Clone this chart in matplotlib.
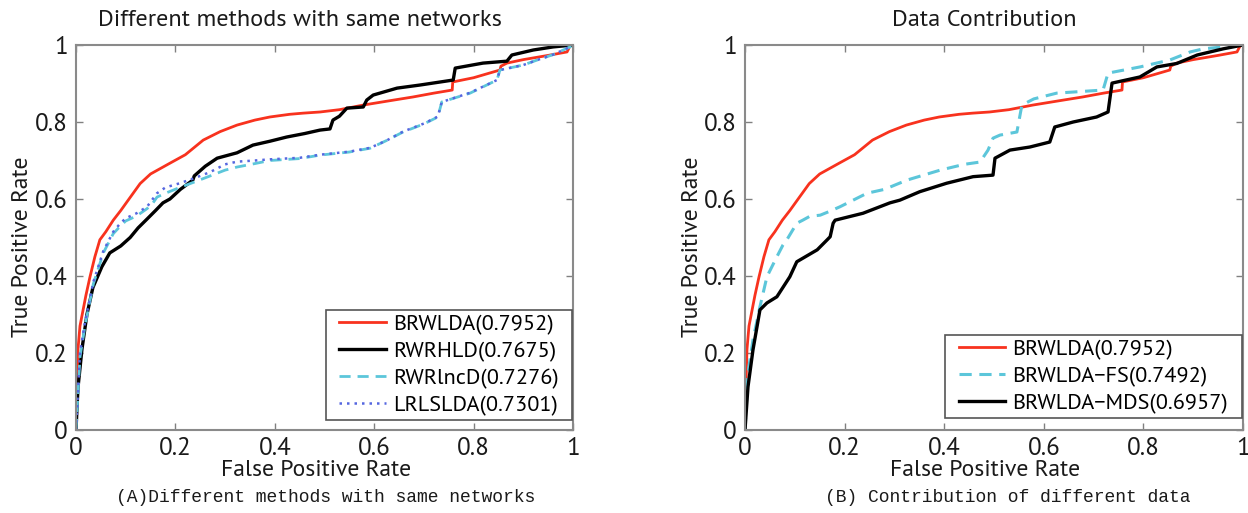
import matplotlib
matplotlib.use('Agg')
import matplotlib.pyplot as plt
from matplotlib import font_manager as fm
from matplotlib.lines import Line2D
from matplotlib.legend_handler import HandlerLine2D

# ---------------- data ----------------
tick_values = [0, 0.2, 0.4, 0.6, 0.8, 1]
tick_labels = ['0', '0.2', '0.4', '0.6', '0.8', '1']

# BRWLDA (shared by both panels)
brwlda_fpr = [0, 0.002, 0.004, 0.008, 0.014, 0.02, 0.028, 0.038, 0.048, 0.06, 0.075, 0.09, 0.105,
              0.129, 0.15, 0.189, 0.22, 0.256, 0.29, 0.324, 0.36, 0.39, 0.43, 0.457, 0.491, 0.53,
              0.578, 0.63, 0.678, 0.72, 0.757, 0.758, 0.80, 0.853, 0.855, 0.867, 0.90, 0.95, 0.988,
              0.995, 1.0]
brwlda_tpr = [0, 0.12, 0.21, 0.27, 0.31, 0.35, 0.397, 0.45, 0.494, 0.515, 0.545, 0.57, 0.597,
              0.64, 0.665, 0.693, 0.715, 0.753, 0.775, 0.792, 0.805, 0.813, 0.82, 0.823, 0.826, 0.832,
              0.844, 0.855, 0.865, 0.875, 0.883, 0.904, 0.915, 0.935, 0.945, 0.953, 0.962, 0.973, 0.982,
              1.0, 1.0]

# RWRHLD
rwrhld_fpr = [0, 0.004, 0.012, 0.022, 0.034, 0.052, 0.068, 0.09, 0.109, 0.125, 0.143, 0.16, 0.175,
              0.189, 0.21, 0.235, 0.238, 0.26, 0.284, 0.324, 0.356, 0.39, 0.424, 0.46, 0.491, 0.511,
              0.517, 0.53, 0.545, 0.578, 0.585, 0.598, 0.646, 0.692, 0.759, 0.763, 0.819, 0.867, 0.877,
              0.92, 0.96, 1.0]
rwrhld_tpr = [0, 0.11, 0.21, 0.30, 0.37, 0.424, 0.46, 0.478, 0.50, 0.525, 0.548, 0.57, 0.59,
              0.60, 0.625, 0.649, 0.66, 0.685, 0.706, 0.72, 0.74, 0.75, 0.761, 0.77, 0.779, 0.782,
              0.805, 0.815, 0.836, 0.839, 0.857, 0.87, 0.888, 0.896, 0.909, 0.94, 0.953, 0.958, 0.974,
              0.987, 0.995, 1.0]

# RWRlncD
rwrlncd_fpr = [0, 0.008, 0.018, 0.035, 0.055, 0.075, 0.088, 0.1, 0.122, 0.143, 0.155, 0.163, 0.18,
               0.209, 0.24, 0.27, 0.3, 0.324, 0.36, 0.39, 0.45, 0.491, 0.55, 0.592, 0.625, 0.658, 0.7,
               0.728, 0.736, 0.793, 0.847, 0.853, 0.9, 0.928, 0.96, 0.994, 1.0]
rwrlncd_tpr = [0, 0.19, 0.27, 0.38, 0.46, 0.51, 0.528, 0.543, 0.556, 0.575, 0.59, 0.605, 0.615,
               0.63, 0.645, 0.66, 0.675, 0.683, 0.692, 0.70, 0.705, 0.714, 0.722, 0.732, 0.752, 0.774,
               0.795, 0.813, 0.852, 0.875, 0.909, 0.935, 0.948, 0.961, 0.975, 0.995, 1.0]

# LRLSLDA
lrlslda_fpr = [0, 0.008, 0.018, 0.035, 0.055, 0.075, 0.088, 0.1, 0.122, 0.143, 0.163, 0.18, 0.209,
               0.24, 0.27, 0.3, 0.324, 0.36, 0.39, 0.45, 0.491, 0.55, 0.592, 0.625, 0.658, 0.7, 0.728,
               0.736, 0.793, 0.847, 0.853, 0.9, 0.928, 0.96, 0.994, 1.0]
lrlslda_tpr = [0, 0.20, 0.28, 0.385, 0.465, 0.515, 0.535, 0.55, 0.563, 0.58, 0.615, 0.63, 0.641,
               0.655, 0.67, 0.69, 0.697, 0.70, 0.703, 0.707, 0.715, 0.723, 0.733, 0.752, 0.775, 0.796,
               0.814, 0.852, 0.876, 0.909, 0.935, 0.948, 0.961, 0.975, 0.995, 1.0]

# BRWLDA-FS
fs_fpr = [0, 0.006, 0.016, 0.03, 0.044, 0.064, 0.076, 0.084, 0.104, 0.116, 0.13, 0.151, 0.17, 0.191,
          0.245, 0.28, 0.325, 0.392, 0.44, 0.472, 0.488, 0.498, 0.512, 0.546, 0.556, 0.58, 0.626,
          0.719, 0.729, 0.793, 0.853, 0.894, 0.92, 0.96, 1.0]
fs_tpr = [0, 0.148, 0.234, 0.32, 0.398, 0.45, 0.48, 0.494, 0.537, 0.545, 0.555, 0.558, 0.568, 0.58,
          0.615, 0.625, 0.649, 0.675, 0.69, 0.696, 0.727, 0.758, 0.766, 0.774, 0.844, 0.86, 0.875,
          0.883, 0.927, 0.943, 0.961, 0.982, 0.99, 0.995, 1.0]

# BRWLDA-MDS
mds_fpr = [0, 0.006, 0.016, 0.03, 0.044, 0.064, 0.09, 0.104, 0.145, 0.165, 0.171, 0.177, 0.181, 0.237,
           0.291, 0.311, 0.351, 0.405, 0.458, 0.498, 0.502, 0.532, 0.572, 0.612, 0.622, 0.659, 0.706,
           0.729, 0.737, 0.793, 0.827, 0.867, 0.908, 0.96, 1.0]
mds_tpr = [0, 0.112, 0.208, 0.312, 0.33, 0.346, 0.398, 0.437, 0.468, 0.494, 0.502, 0.537, 0.545, 0.563,
           0.59, 0.597, 0.619, 0.641, 0.658, 0.662, 0.706, 0.727, 0.735, 0.748, 0.787, 0.80, 0.813,
           0.826, 0.901, 0.917, 0.943, 0.952, 0.974, 0.99, 1.0]

labels_a = ['BRWLDA(0.7952)', 'RWRHLD(0.7675)', 'RWRlncD(0.7276)', 'LRLSLDA(0.7301)']
labels_b = ['BRWLDA(0.7952)', 'BRWLDA\u2212FS(0.7492)', 'BRWLDA\u2212MDS(0.6957)']

# ---------------- fonts ----------------
def static_regular(name):
    for f in fm.fontManager.ttflist:
        p = f.fname.lower()
        if (f.name == name and f.style == 'normal' and f.weight in (400, 'normal', 'regular')
                and 'wght' not in p and 'variable' not in p and 'vf' not in p.split('/')[-1]):
            return f.fname
    return None


SANS_FILE = None
for cand in ['Source Sans Pro', 'Source Sans 3', 'PT Sans', 'Lato', 'Liberation Sans']:
    SANS_FILE = static_regular(cand)
    if SANS_FILE:
        break
MONO = 'Liberation Mono' if any(f.name == 'Liberation Mono' for f in fm.fontManager.ttflist) else 'DejaVu Sans Mono'

if SANS_FILE:
    SANS = fm.FontProperties(fname=SANS_FILE).get_name()
else:
    SANS = 'DejaVu Sans'
plt.rcParams['font.family'] = [SANS, 'DejaVu Sans']


def fp(size):
    if SANS_FILE:
        return fm.FontProperties(fname=SANS_FILE, size=size)
    return fm.FontProperties(family='DejaVu Sans', size=size)


RED = '#f8321e'
CYAN = '#5cc6da'
BLUE = '#5566e0'
TC = '#1a1a1a'
LEG_FS = 16

fig = plt.figure(figsize=(12.48, 5.13), dpi=100)
axA = fig.add_axes([76 / 1248, 83 / 513, 497 / 1248, 385 / 513])
axB = fig.add_axes([745 / 1248, 83 / 513, 498 / 1248, 385 / 513])


def style(ax):
    ax.set_xlim(0, 1)
    ax.set_ylim(0, 1)
    ax.set_xticks(tick_values)
    ax.set_xticklabels(tick_labels, fontproperties=fp(18))
    ax.set_yticks(tick_values)
    ax.set_yticklabels(tick_labels, fontproperties=fp(18))
    ax.tick_params(direction='in', length=5, width=1, color='#808080', top=True, right=True,
                   labelcolor=TC)
    ax.tick_params(axis='x', pad=5)
    ax.tick_params(axis='y', pad=6)
    for s in ax.spines.values():
        s.set_color('#8a8a8a')
        s.set_linewidth(1.5)


axA.plot(brwlda_fpr, brwlda_tpr, color=RED, lw=2, label=labels_a[0])
axA.plot(rwrhld_fpr, rwrhld_tpr, color='black', lw=2.4, label=labels_a[1])
axA.plot(rwrlncd_fpr, rwrlncd_tpr, color=CYAN, lw=2, ls=(0, (4, 2.5)), label=labels_a[2])
axA.plot(lrlslda_fpr, lrlslda_tpr, color=BLUE, lw=1.8, ls=(0, (1, 2)), label=labels_a[3])
style(axA)

axB.plot(brwlda_fpr, brwlda_tpr, color=RED, lw=2, label=labels_b[0])
axB.plot(fs_fpr, fs_tpr, color=CYAN, lw=2.2, ls=(0, (4, 2.5)), label=labels_b[1])
axB.plot(mds_fpr, mds_tpr, color='black', lw=2.4, label=labels_b[2])
style(axB)

leg_kw = dict(loc='lower left', mode='expand', borderaxespad=0, fancybox=False, prop=fp(LEG_FS),
              handlelength=2.5, handletextpad=0.3, labelspacing=0.3, borderpad=0.2, framealpha=1,
              handler_map={Line2D: HandlerLine2D(xpad=0.4)})
legA = axA.legend(bbox_to_anchor=(0.503, 0.026, 0.494, 0.3), **leg_kw)
legB = axB.legend(bbox_to_anchor=(0.402, 0.031, 0.596, 0.23), **leg_kw)
for lg in (legA, legB):
    lg.get_frame().set_edgecolor('#555555')
    lg.get_frame().set_linewidth(1.2)

fig.text(300 / 1248, 1 - 21 / 513, 'Different methods with same networks', ha='center', va='center',
         fontproperties=fp(17.5), color=TC)
fig.text(984 / 1248, 1 - 21 / 513, 'Data Contribution', ha='center', va='center',
         fontproperties=fp(17.5), color=TC)
fig.text(316 / 1248, 1 - 471 / 513, 'False Positive Rate', ha='center', va='center',
         fontproperties=fp(17), color=TC)
fig.text(985 / 1248, 1 - 471 / 513, 'False Positive Rate', ha='center', va='center',
         fontproperties=fp(17), color=TC)
fig.text(23 / 1248, 1 - 247 / 513, 'True Positive Rate', ha='center', va='center', rotation=90,
         fontproperties=fp(17), color=TC)
fig.text(693 / 1248, 1 - 247 / 513, 'True Positive Rate', ha='center', va='center', rotation=90,
         fontproperties=fp(17), color=TC)
fig.text(326 / 1248, 1 - 498 / 513, '(A)Different methods with same networks', ha='center', va='center',
         fontsize=13, family=MONO, color=TC)
fig.text(1008 / 1248, 1 - 498 / 513, '(B) Contribution of different data', ha='center', va='center',
         fontsize=13, family=MONO, color=TC)

fig.savefig('out.png', dpi=100)
